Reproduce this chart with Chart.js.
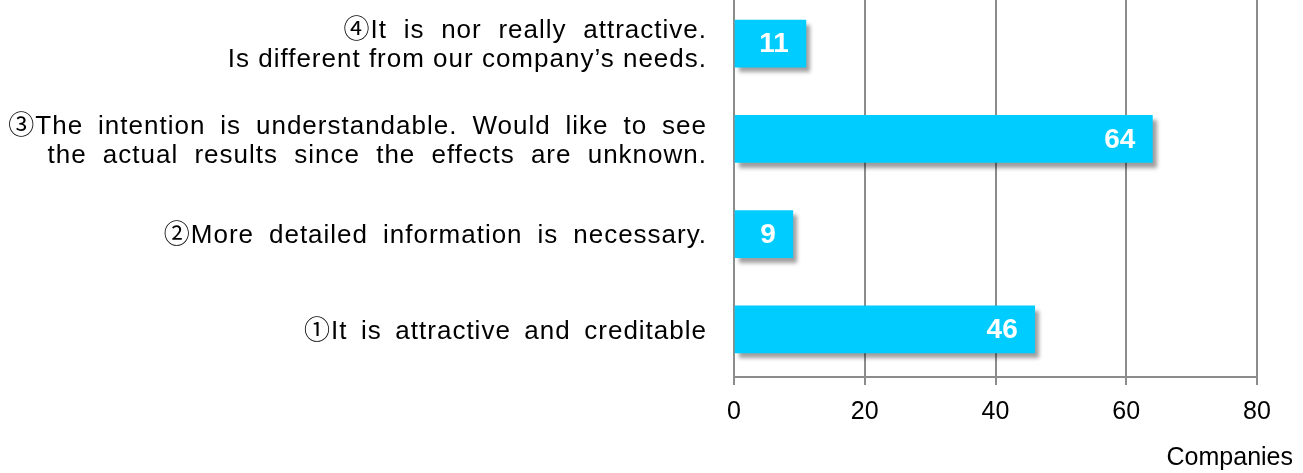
<!DOCTYPE html>
<html>
<head>
<meta charset="utf-8">
<script src="https://cdn.jsdelivr.net/npm/chart.js@4.4.0/dist/chart.umd.min.js"></script>
<style>
  html, body { margin: 0; padding: 0; background: #fff; overflow: hidden; }
  #wrap { position: absolute; left: 0; top: -4px; width: 1303px; height: 477px; }
</style>
</head>
<body>
<div id="wrap"><canvas id="chart"></canvas></div>
<script>
// Survey answers, top to bottom as drawn
var categories = [
  ['④It is nor really attractive.', 'Is different from our company’s needs.'],
  ['③The intention is understandable. Would like to see', 'the actual results since the effects are unknown.'],
  ['②More detailed information is necessary.'],
  ['①It is attractive and creditable']
];
var companies = [11, 64, 9, 46];
var xTicks = [0, 20, 40, 60, 80];
var axisTitle = 'Companies';

(function () {
  'use strict';

  var FONT = "'Liberation Sans', 'Noto Sans CJK JP', Arial, sans-serif";
  var GRID = '#8c8c8c';

  // Soft drop shadow under the bars
  var barShadow = {
    id: 'barShadow',
    beforeDatasetDraw: function (chart) {
      var ctx = chart.ctx;
      ctx.save();
      ctx.shadowColor = 'rgba(0,0,0,0.38)';
      ctx.shadowOffsetX = 4;
      ctx.shadowOffsetY = 5;
      ctx.shadowBlur = 4;
    },
    afterDatasetDraw: function (chart) {
      chart.ctx.restore();
    }
  };

  // Value inside the bar end
  var barValues = {
    id: 'barValues',
    afterDatasetsDraw: function (chart) {
      var ctx = chart.ctx;
      var meta = chart.getDatasetMeta(0);
      ctx.save();
      ctx.font = 'bold 28px ' + FONT;
      ctx.fillStyle = '#fff';
      ctx.textAlign = 'right';
      ctx.textBaseline = 'middle';
      meta.data.forEach(function (bar, i) {
        ctx.fillText(String(companies[i]), bar.x - 17, bar.y + 1);
      });
      ctx.restore();
    }
  };

  // Category text on the left, right aligned, with the wide spacing of the original
  var sideLabels = {
    id: 'sideLabels',
    afterDraw: function (chart, args, opts) {
      var ctx = chart.ctx;
      var yScale = chart.scales.y;
      var area = chart.chartArea;
      ctx.save();
      ctx.font = opts.size + 'px ' + FONT;
      ctx.fillStyle = '#000';
      ctx.textAlign = 'right';
      ctx.textBaseline = 'middle';
      categories.forEach(function (lines, i) {
        var cy = yScale.getPixelForValue(i) + opts.offset;
        var top = cy - (lines.length - 1) * opts.lineHeight / 2;
        ctx.letterSpacing = opts.letterSpacing;
        lines.forEach(function (t, j) {
          ctx.wordSpacing = opts.wordSpacing[i][j] + 'px';
          ctx.fillText(t, area.left - opts.gap, top + j * opts.lineHeight);
        });
      });
      ctx.restore();
    }
  };

  var unitTitle = {
    id: 'unitTitle',
    afterDraw: function (chart) {
      var ctx = chart.ctx;
      ctx.save();
      ctx.font = '25px ' + FONT;
      ctx.fillStyle = '#000';
      ctx.textAlign = 'right';
      ctx.textBaseline = 'middle';
      ctx.fillText(axisTitle, chart.width - 10, chart.chartArea.bottom + 81);
      ctx.restore();
    }
  };

  var ctx = document.getElementById('chart').getContext('2d');

  new Chart(ctx, {
    type: 'bar',
    data: {
      labels: categories,
      datasets: [{
        data: companies,
        backgroundColor: '#00ccff',
        borderWidth: 0,
        barThickness: 47
      }]
    },
    plugins: [barShadow, barValues, sideLabels, unitTitle],
    options: {
      indexAxis: 'y',
      responsive: true,
      maintainAspectRatio: false,
      animation: false,
      layout: { padding: { left: 734, right: 46, top: 0, bottom: 0 } },
      plugins: {
        legend: { display: false },
        tooltip: { enabled: false },
        sideLabels: {
          size: 26,
          lineHeight: 29,
          offset: 2,
          gap: 27,
          letterSpacing: '1px',
          wordSpacing: [[8.5, 0], [6.7, 8], [6.7], [5.3]]
        }
      },
      scales: {
        x: {
          min: xTicks[0],
          max: xTicks[xTicks.length - 1],
          afterFit: function (s) { s.height = 96; },
          ticks: {
            stepSize: xTicks[1] - xTicks[0],
            color: '#000',
            padding: 12,
            font: { family: FONT, size: 25 }
          },
          grid: { color: GRID, lineWidth: 2, tickLength: 8, tickColor: GRID },
          border: { color: GRID, width: 2 }
        },
        y: {
          afterFit: function (s) { s.width = 0; },
          ticks: { display: false },
          grid: { display: false },
          border: { display: true, color: GRID, width: 2 }
        }
      }
    }
  });
})();
</script>
</body>
</html>
